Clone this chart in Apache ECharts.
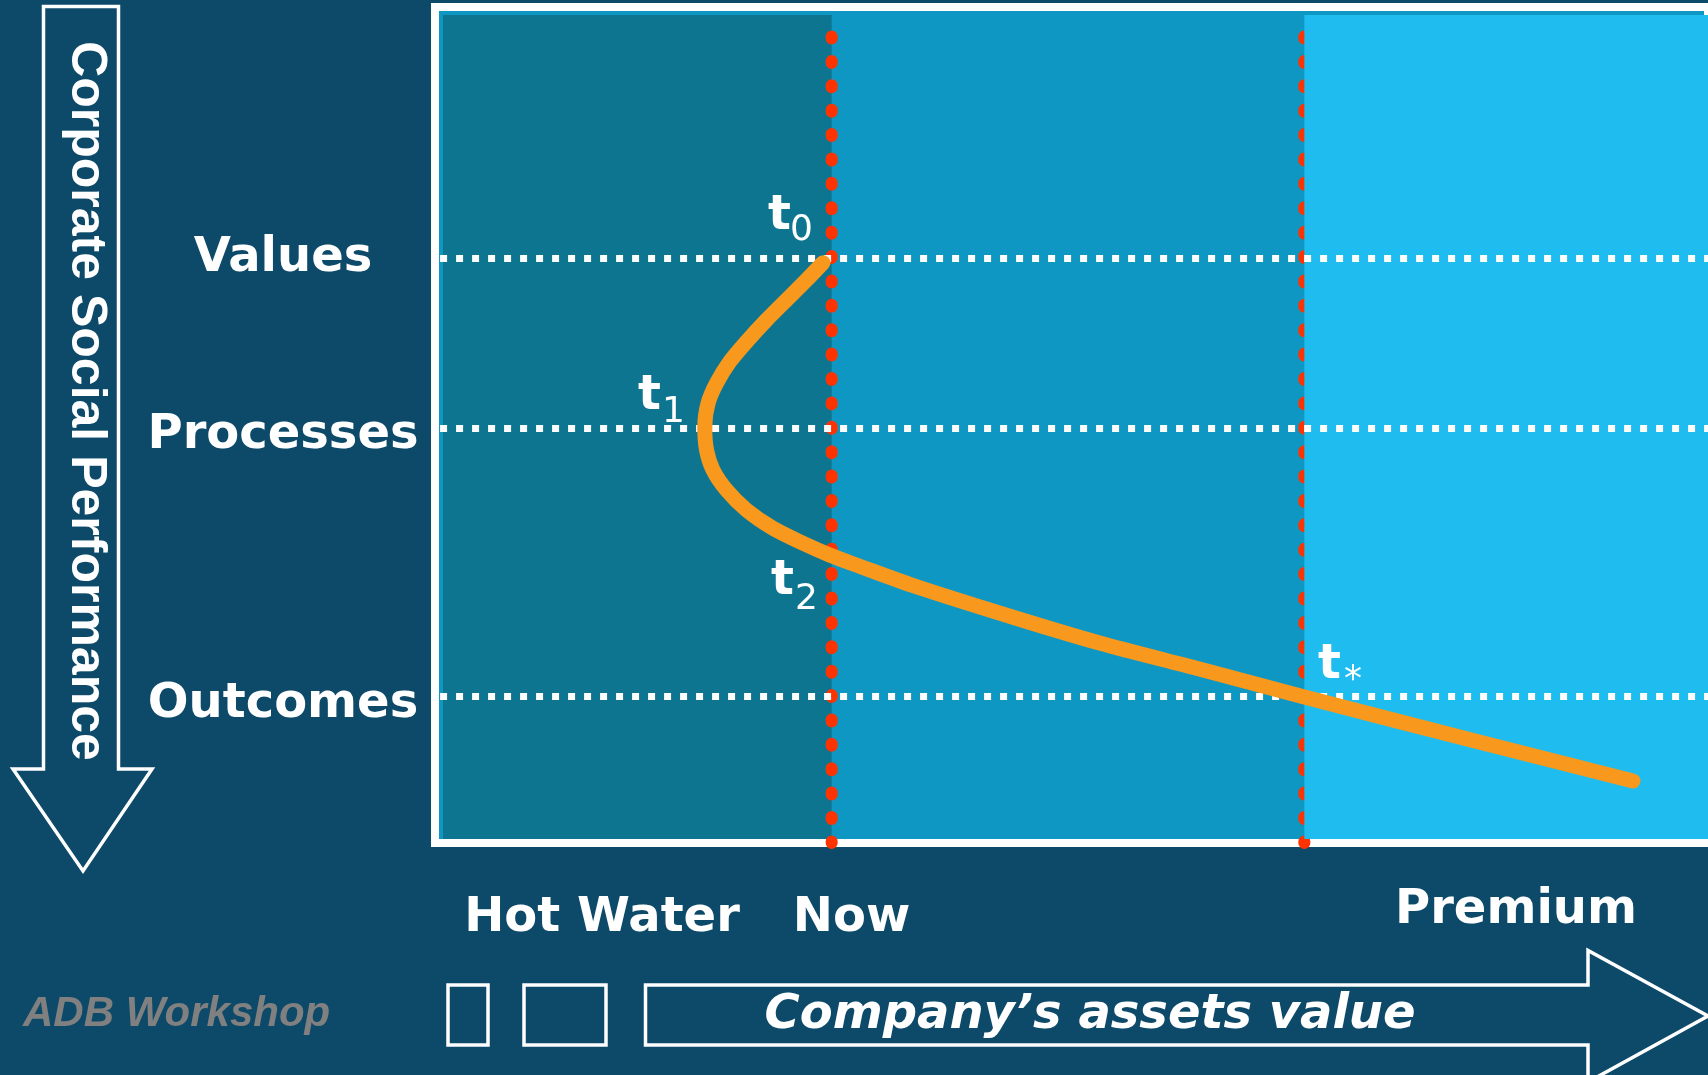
<!DOCTYPE html>
<html>
<head>
<meta charset="utf-8">
<script src="https://cdn.jsdelivr.net/npm/echarts@6.0.0/dist/echarts.min.js"></script>
<style>
html,body{margin:0;padding:0;background:#0d4968;}
#chart{width:1708px;height:1075px;}
</style>
</head>
<body>
<div id="chart"></div>
<script>
// ---- data ----
const cspLevels = ['Values', 'Processes', 'Outcomes'];
const cspLevelValues = [30.0, 50.4, 82.5];
const assetStages = ['Hot Water', 'Now', 'Premium'];
const stageBoundaries = [31.16, 68.29];          // Now, Premium (asset value)
const curveAssets = [30.48, 29.18, 27.61, 26.04, 24.47, 23.16, 22.11, 21.45, 21.19, 21.33, 21.84, 22.90, 24.47, 26.55, 28.91, 31.00, 33.10, 37.81, 45.66, 52.20, 60.05, 68.29, 82.63, 94.11];
const curveCsp    = [30.59, 32.66, 35.05, 37.44, 40.04, 42.43, 45.01, 47.40, 50.20, 52.99, 55.38, 57.78, 60.17, 62.36, 64.15, 65.55, 66.75, 69.34, 73.12, 76.08, 79.19, 82.54, 88.16, 92.58];
const timeLabels = ['0', '1', '2', '*'];
const axisTitleY = 'Corporate Social Performance';
const axisTitleX = 'Company\u2019s assets value';
const footer = 'ADB Workshop';

// ---- styles ----
const NAVY = '#0d4968', TEAL = '#0d7590', MID = '#0f97c3', LIGHT = '#1fbdef';
const ORANGE = '#f8981d', RED = '#ff3300', WHITE = '#ffffff';
const BAND_TOP = 0.96, BAND_BOTTOM = 99.52, BAND_LEFT = 0.63;

const chart = echarts.init(document.getElementById('chart'));

const curveData = curveAssets.map((x, i) => [x, curveCsp[i]]);

const labelFont = 'bold 48px "DejaVu Sans"';
function txt(text, x, y, opts) {
  return {
    type: 'text', x: x, y: y, z: 100, silent: true,
    style: Object.assign({ text: text, fill: WHITE, font: labelFont, align: 'center', verticalAlign: 'middle' }, opts || {})
  };
}

const levelY = [258.5, 436, 704.5];
const stagePos = [[602, 919], [851.5, 919], [1516, 911]];
const tPos = [[768, 216.4, 790, 230.5], [638, 396.4, 662, 412.5], [771, 581.4, 795, 599.5], [1318, 665.4, 1344, 680.5]];

const graphics = [];
// left vertical arrow
graphics.push({
  type: 'polygon', silent: true, z: 100,
  shape: { points: [[43.5, 6.5], [118.5, 6.5], [118.5, 769], [152, 769], [83, 871], [13, 769], [43.5, 769]] },
  style: { fill: 'none', stroke: WHITE, lineWidth: 3.5 }
});
graphics.push({
  type: 'text', x: 86, y: 401, z: 100, rotation: -Math.PI / 2, silent: true,
  style: { text: axisTitleY, fill: WHITE, font: 'bold 50px "Liberation Sans"', align: 'center', verticalAlign: 'middle' }
});
// level labels
cspLevels.forEach((name, i) => graphics.push(txt(name, 283, levelY[i])));
// stage labels
assetStages.forEach((name, i) => graphics.push(txt(name, stagePos[i][0], stagePos[i][1])));
// time labels
timeLabels.forEach((sub, i) => {
  const p = tPos[i];
  graphics.push(txt('t', p[0], p[1], { align: 'left' }));
  graphics.push(txt(sub, p[2], p[3], { align: 'left', font: '36px "DejaVu Sans"' }));
});
// bottom boxes and arrow
graphics.push({ type: 'rect', silent: true, z: 100, shape: { x: 448, y: 985, width: 40, height: 60 }, style: { fill: 'none', stroke: WHITE, lineWidth: 3.5 } });
graphics.push({ type: 'rect', silent: true, z: 100, shape: { x: 524, y: 985, width: 82, height: 60 }, style: { fill: 'none', stroke: WHITE, lineWidth: 3.5 } });
graphics.push({
  type: 'polygon', silent: true, z: 100,
  shape: { points: [[645.5, 985], [1588, 985], [1588, 950.5], [1708, 1016], [1588, 1082], [1588, 1045], [645.5, 1045]] },
  style: { fill: 'none', stroke: WHITE, lineWidth: 3.5 }
});
graphics.push(txt(axisTitleX, 1090, 1016, { font: 'italic bold 48px "DejaVu Sans"' }));
graphics.push(txt(footer, 23, 1014, { align: 'left', fill: '#808080', font: 'italic bold 42px "Liberation Sans"' }));

// stage boundary lines (red dotted)
const boundarySeries = stageBoundaries.map(b => ({
  type: 'line', z: 2, silent: true, clip: false, symbol: 'none',
  data: [[b, BAND_TOP], [b, 100]],
  lineStyle: { color: RED, width: 12, type: [2, 22.39], dashOffset: 2.89, cap: 'round' }
}));

const option = {
  backgroundColor: NAVY,
  animation: false,
  grid: { left: 435, top: 7, width: 1274, height: 836, show: true, backgroundColor: MID, borderColor: WHITE, borderWidth: 8 },
  xAxis: { type: 'value', min: 0, max: 100, show: false },
  yAxis: { type: 'value', min: 0, max: 100, inverse: true, show: false },
  graphic: graphics,
  series: [
    {
      type: 'line', data: [], z: 1, silent: true,
      markArea: { z: 1, silent: true, itemStyle: { color: TEAL },
        data: [[{ coord: [BAND_LEFT, BAND_TOP] }, { coord: [stageBoundaries[0], BAND_BOTTOM] }]] }
    },
    ...boundarySeries,
    {
      type: 'line', data: [], z: 3, silent: true,
      markArea: { z: 3, silent: true, itemStyle: { color: LIGHT },
        data: [[{ coord: [stageBoundaries[1], BAND_TOP] }, { coord: [100, BAND_BOTTOM] }]] }
    },
    {
      type: 'line', data: [], z: 4, silent: true,
      markLine: {
        z: 4, silent: true, symbol: ['none', 'none'], label: { show: false },
        lineStyle: { color: WHITE, width: 7, type: [7, 9] },
        emphasis: { disabled: true },
        data: cspLevelValues.map(v => [{ coord: [0.4, v] }, { coord: [100, v] }])
      }
    },
    {
      type: 'line', name: 'CSP path', data: curveData, z: 6, smooth: 0.3, symbol: 'none', silent: true,
      lineStyle: { color: ORANGE, width: 15, cap: 'round', join: 'round' }
    }
  ]
};
chart.setOption(option);
</script>
</body>
</html>
